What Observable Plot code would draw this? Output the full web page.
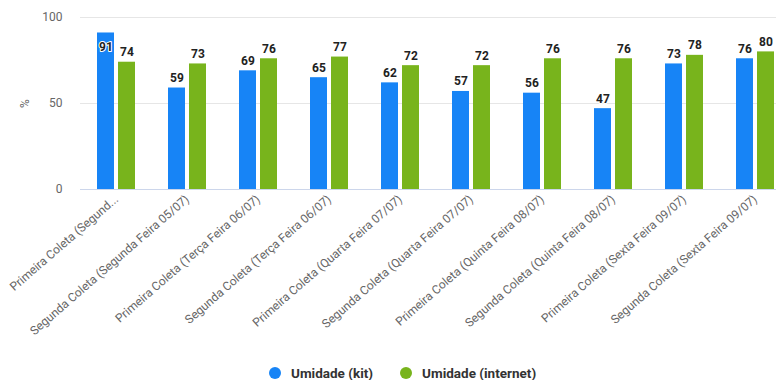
<!DOCTYPE html>
<html><head><meta charset="utf-8">
<script src="https://cdn.jsdelivr.net/npm/d3@7"></script>
<script src="https://cdn.jsdelivr.net/npm/@observablehq/plot@0.6"></script>
<style>
body{margin:0;background:#fff;font-family:Roboto,"Open Sans",sans-serif;}
#wrap{width:776px;height:380px;overflow:hidden;position:relative;}
#chart{width:790px;}
#legend{display:flex;align-items:center;height:25px;margin-top:5px;padding-left:269px;font-size:13.5px;font-weight:bold;color:#333;}
#legend .item{display:flex;align-items:center;margin-right:27px;}
#legend .dot{width:12px;height:12px;border-radius:50%;margin-right:10px;display:inline-block;}
</style></head>
<body><div id="wrap"><div id="chart"></div><div id="legend"></div></div>
<script>
const categories = [
  "Primeira Coleta (Segunda Feira 05/07)",
  "Segunda Coleta (Segunda Feira 05/07)",
  "Primeira Coleta (Terça Feira 06/07)",
  "Segunda Coleta (Terça Feira 06/07)",
  "Primeira Coleta (Quarta Feira 07/07)",
  "Segunda Coleta (Quarta Feira 07/07)",
  "Primeira Coleta (Quinta Feira 08/07)",
  "Segunda Coleta (Quinta Feira 08/07)",
  "Primeira Coleta (Sexta Feira 09/07)",
  "Segunda Coleta (Sexta Feira 09/07)"
];
const tickLabels = [
  "Primeira Coleta (Segund...",
  "Segunda Coleta (Segunda Feira 05/07)",
  "Primeira Coleta (Terça Feira 06/07)",
  "Segunda Coleta (Terça Feira 06/07)",
  "Primeira Coleta (Quarta Feira 07/07)",
  "Segunda Coleta (Quarta Feira 07/07)",
  "Primeira Coleta (Quinta Feira 08/07)",
  "Segunda Coleta (Quinta Feira 08/07)",
  "Primeira Coleta (Sexta Feira 09/07)",
  "Segunda Coleta (Sexta Feira 09/07)"
];
const kit = [91, 59, 69, 65, 62, 57, 56, 47, 73, 76];
const internet = [74, 73, 76, 77, 72, 72, 76, 76, 78, 80];
const seriesNames = ["Umidade (kit)", "Umidade (internet)"];
const colors = ["#1784f6", "#78b41c"];
const yTicks = [0, 50, 100];

const kitData = categories.map((c, i) => ({cat: c, series: seriesNames[0], value: kit[i]}));
const netData = categories.map((c, i) => ({cat: c, series: seriesNames[1], value: internet[i]}));
const labelMap = new Map(categories.map((c, i) => [c, tickLabels[i]]));

const inside = d => d.value > 85;
const textOpts = (off) => ({
  x: "cat", y: "value", text: d => String(d.value), dx: off,
  fontSize: 12, fontWeight: "bold", fill: "#222", stroke: "white", strokeWidth: 2, paintOrder: "stroke"
});

const chart = Plot.plot({
  width: 790, height: 355,
  marginLeft: 80, marginRight: 0, marginTop: 17, marginBottom: 166,
  style: {fontFamily: "Roboto, 'Open Sans', sans-serif", fontSize: "11px", color: "#666", background: "transparent"},
  x: {domain: categories, paddingInner: 0.465, paddingOuter: 0.2325},
  y: {domain: [0, 100]},
  color: {domain: seriesNames, range: colors},
  marks: [
    Plot.gridY(yTicks.filter(t => t > 0), {stroke: "#e6e6e6", strokeOpacity: 1}),
    Plot.ruleY([0], {stroke: "#ccd6eb"}),
    Plot.axisY({ticks: yTicks, tickSize: 0, tickPadding: 18, label: "%", labelAnchor: "center", labelArrow: "none", labelOffset: 60, fontSize: 12, fill: "#666"}),
    Plot.axisX({tickRotate: -41, tickSize: 0, tickPadding: 8, tickFormat: d => labelMap.get(d), label: null, fontSize: 12, fill: "#666"}),
    Plot.barY(kitData, {x: "cat", y: "value", fill: "series", insetRight: 21}),
    Plot.barY(netData, {x: "cat", y: "value", fill: "series", insetLeft: 21}),
    Plot.text(kitData.filter(d => !inside(d)), {...textOpts(-10.5), dy: -10}),
    Plot.text(kitData.filter(inside), {...textOpts(-10.5), dy: 14}),
    Plot.text(netData.filter(d => !inside(d)), {...textOpts(10.5), dy: -10}),
    Plot.text(netData.filter(inside), {...textOpts(10.5), dy: 14})
  ]
});
document.getElementById("chart").appendChild(chart);

const legend = document.getElementById("legend");
seriesNames.forEach((s, i) => {
  const item = document.createElement("span");
  item.className = "item";
  const dot = document.createElement("span");
  dot.className = "dot";
  dot.style.background = colors[i];
  item.appendChild(dot);
  item.appendChild(document.createTextNode(s));
  legend.appendChild(item);
});
</script>
</body></html>
